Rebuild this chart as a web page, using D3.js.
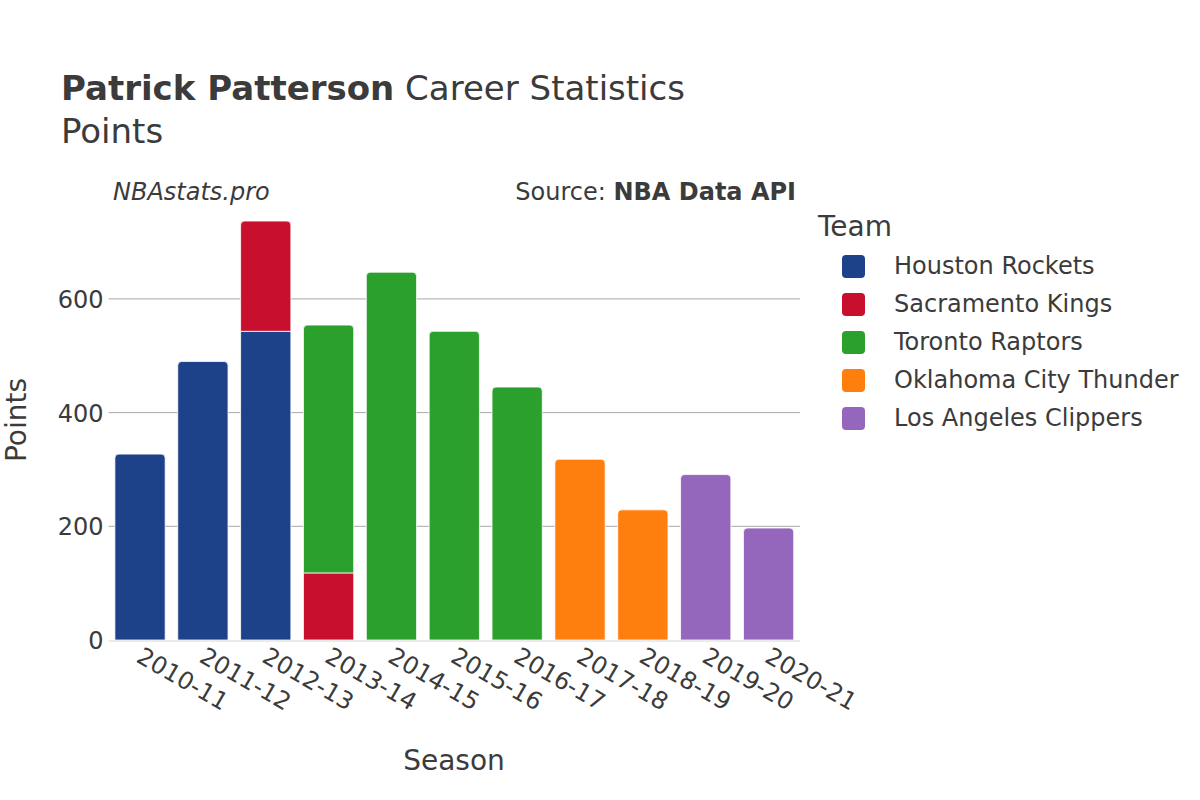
<!DOCTYPE html>
<html>
<head>
<meta charset="utf-8">
<script src="https://cdn.jsdelivr.net/npm/d3@7"></script>
<style>
  html, body { margin: 0; padding: 0; background: #fff; }
  svg { display: block; }
  text { font-family: "DejaVu Sans", sans-serif; fill: #3b3b3b; }
</style>
</head>
<body>
<svg id="chart" width="1200" height="800"></svg>
<script>
const seasons = ["2010-11","2011-12","2012-13","2013-14","2014-15","2015-16","2016-17","2017-18","2018-19","2019-20","2020-21"];
const teams = ["Houston Rockets","Sacramento Kings","Toronto Raptors","Oklahoma City Thunder","Los Angeles Clippers"];
const teamColors = ["#1d428a","#c8102e","#2ca02c","#ff7f0e","#9467bd"];
const houstonRockets      = [327, 490, 543, 0, 0, 0, 0, 0, 0, 0, 0];
const sacramentoKings     = [0, 0, 194, 118, 0, 0, 0, 0, 0, 0, 0];
const torontoRaptors      = [0, 0, 0, 436, 647, 543, 445, 0, 0, 0, 0];
const oklahomaCityThunder = [0, 0, 0, 0, 0, 0, 0, 318, 229, 0, 0];
const losAngelesClippers  = [0, 0, 0, 0, 0, 0, 0, 0, 0, 291, 197];
const yTicks = [0, 200, 400, 600];
const yMax = 774;

const seriesValues = [houstonRockets, sacramentoKings, torontoRaptors, oklahomaCityThunder, losAngelesClippers];
const rows = seasons.map((s, i) => {
  const r = { season: s };
  teams.forEach((t, j) => { r[t] = seriesValues[j][i]; });
  return r;
});

const svg = d3.select("#chart");
const plot = { left: 108.6, right: 800, top: 200, bottom: 640 };

const x = d3.scaleBand().domain(seasons).range([plot.left, plot.right]).paddingInner(0.2).paddingOuter(0.1);
const y = d3.scaleLinear().domain([0, yMax]).range([plot.bottom, plot.top]);
const color = d3.scaleOrdinal().domain(teams).range(teamColors);

// gridlines
svg.append("g").selectAll("line").data(yTicks.filter(d => d > 0)).join("line")
  .attr("x1", plot.left).attr("x2", plot.right)
  .attr("y1", d => y(d)).attr("y2", d => y(d))
  .attr("stroke", "#a8a8a8").attr("stroke-width", 1);

// y axis labels
const yAxis = d3.axisLeft(y).tickValues(yTicks).tickSize(0).tickPadding(5);
const yg = svg.append("g").attr("transform", `translate(${plot.left},0)`).call(yAxis);
yg.select(".domain").remove();
yg.selectAll("text").style("font-size", "24px").attr("fill", "#3b3b3b").attr("font-family", "DejaVu Sans").attr("dy", "0.35em");

// stacked bars
const stack = d3.stack().keys(teams);
const stacked = stack(rows);
const topIdx = seasons.map((s, i) => {
  let t = -1;
  teams.forEach((tm, j) => { if (seriesValues[j][i] > 0) t = j; });
  return t;
});

function barPath(x0, w, yTop, yBot, r) {
  r = Math.min(r, (yBot - yTop) / 2, w / 2);
  return `M${x0},${yBot}V${yTop + r}Q${x0},${yTop} ${x0 + r},${yTop}H${x0 + w - r}Q${x0 + w},${yTop} ${x0 + w},${yTop + r}V${yBot}Z`;
}

const barsG = svg.append("g");
stacked.forEach((layer, j) => {
  barsG.append("g").selectAll("path")
    .data(layer.map((d, i) => ({ d, i })).filter(o => o.d[1] - o.d[0] > 0))
    .join("path")
    .attr("d", o => {
      const x0 = x(o.d.data.season), w = x.bandwidth();
      const yT = y(o.d[1]), yB = y(o.d[0]);
      return barPath(x0, w, yT, yB, topIdx[o.i] === j ? 4 : 0);
    })
    .attr("fill", color(teams[j]))
    .attr("stroke", "#fff").attr("stroke-width", 0.8);
});

// zero line
svg.append("line")
  .attr("x1", plot.left).attr("x2", plot.right)
  .attr("y1", y(0) + 1).attr("y2", y(0) + 1)
  .attr("stroke", "#ebebeb").attr("stroke-width", 2);

// x axis labels
const xAxis = d3.axisBottom(x).tickSize(0).tickPadding(0);
const xg = svg.append("g").attr("transform", `translate(0,${plot.bottom})`).call(xAxis);
xg.select(".domain").remove();
xg.selectAll("text")
  .style("font-size", "24px").attr("fill", "#3b3b3b").attr("font-family", "DejaVu Sans")
  .attr("text-anchor", "start")
  .attr("y", 0).attr("dy", 0)
  .attr("transform", "translate(-5,21) rotate(30)");

// titles
const title = svg.append("text").attr("x", 61).attr("y", 100).style("font-size", "34px");
title.append("tspan").attr("font-weight", "bold").text("Patrick Patterson");
title.append("tspan").text(" Career Statistics");
svg.append("text").attr("x", 61).attr("y", 143).style("font-size", "34px").text("Points");

svg.append("text").attr("x", 113).attr("y", 200).style("font-size", "24px").attr("font-style", "italic").text("NBAstats.pro");
const src = svg.append("text").attr("x", 796).attr("y", 200).attr("text-anchor", "end").style("font-size", "24px");
src.append("tspan").text("Source: ");
src.append("tspan").attr("font-weight", "bold").text("NBA Data API");

// axis titles
svg.append("text").attr("x", 454).attr("y", 770).attr("text-anchor", "middle").style("font-size", "28px").text("Season");
svg.append("text").attr("transform", "translate(26,420) rotate(-90)").attr("text-anchor", "middle").style("font-size", "28px").text("Points");

// legend
svg.append("text").attr("x", 818).attr("y", 236).style("font-size", "28px").text("Team");
const lg = svg.append("g").selectAll("g").data(teams).join("g")
  .attr("transform", (d, i) => `translate(842,${266 + i * 38})`);
lg.append("rect").attr("x", 0).attr("y", -11).attr("width", 23).attr("height", 23).attr("rx", 4)
  .attr("fill", d => color(d));
lg.append("text").attr("x", 52).attr("y", 0).attr("dy", "0.35em").style("font-size", "24px").text(d => d);
</script>
</body>
</html>
